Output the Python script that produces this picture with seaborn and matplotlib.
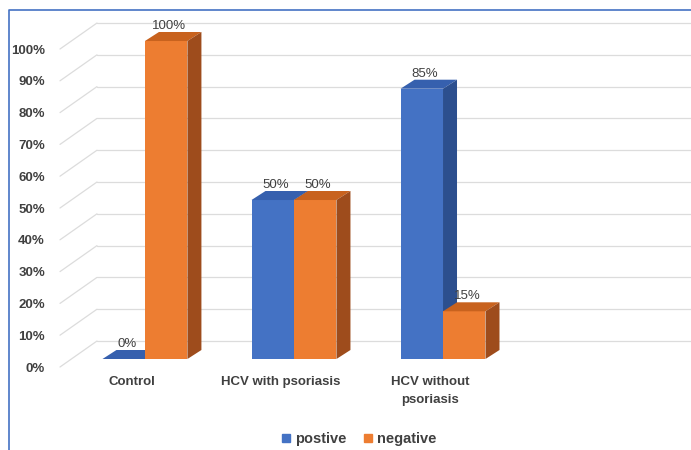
import matplotlib
matplotlib.use("Agg")
import matplotlib.pyplot as plt
import seaborn as sns
import pandas as pd
from matplotlib.patches import Polygon
from matplotlib.lines import Line2D
from matplotlib.transforms import blended_transform_factory, ScaledTranslation, IdentityTransform

# ---- data ----
categories = ["Control", "HCV with psoriasis", "HCV without\npsoriasis"]
series = ["postive", "negative"]
positive = [0, 50, 85]
negative = [100, 50, 15]
tick_values = [0, 10, 20, 30, 40, 50, 60, 70, 80, 90, 100]
tick_labels = [f"{v}%" for v in tick_values]

# ---- style ----
sns.set_theme(style="white")
plt.rcParams["font.family"] = ["Liberation Sans", "DejaVu Sans"]

front_colors = ["#4472C4", "#ED7D31"]
top_colors = ["#3660AE", "#C8621E"]
side_colors = ["#2C4F8E", "#9E4C1C"]
text_color = "#404040"
grid_color = "#dcdcdc"

df = pd.DataFrame({
    "group": categories * 2,
    "result": [series[0]] * len(categories) + [series[1]] * len(categories),
    "value": positive + negative,
})

DPI = 100
W, H = 691, 450
fig = plt.figure(figsize=(W / DPI, H / DPI), dpi=DPI)
ax = fig.add_axes([60 / W, 91 / H, 631 / W, 349 / H])

sns.barplot(data=df, x="group", y="value", hue="result", order=categories,
            hue_order=series, palette=front_colors, width=0.57, gap=0,
            saturation=1, legend=False, ax=ax, linewidth=0, errorbar=None)

ax.set_xlim(-0.570, 3.664)
ax.set_ylim(0, 109.75)
ax.axis("off")

ident = IdentityTransform()

# back wall gridlines and side wall diagonals
for v in tick_values:
    yf = ax.transData.transform((0, v))[1]
    ax.add_line(Line2D([97, W], [yf + 18, yf + 18], transform=ident,
                       color=grid_color, lw=0.9, zorder=0.5, clip_on=False))
    ax.add_line(Line2D([60, 97], [yf - 8, yf + 18], transform=ident,
                       color=grid_color, lw=0.9, zorder=0.5, clip_on=False))

# 3D depth faces
dx, dy = 14, 9
for k, container in enumerate(ax.containers):
    zo = 2 + k
    for bar, val in zip(container, [positive, negative][k]):
        bar.set_zorder(zo)
        bx, by, bw, bh = bar.get_x(), bar.get_y(), bar.get_width(), bar.get_height()
        x0, y0 = ax.transData.transform((bx, by))
        x1, y1 = ax.transData.transform((bx + bw, by + bh))
        top = Polygon([(x0, y1), (x1, y1), (x1 + dx, y1 + dy), (x0 + dx, y1 + dy)],
                      closed=True, transform=ident, facecolor=top_colors[k],
                      edgecolor="none", zorder=zo, clip_on=False)
        side = Polygon([(x1, y0), (x1 + dx, y0 + dy), (x1 + dx, y1 + dy), (x1, y1)],
                       closed=True, transform=ident, facecolor=side_colors[k],
                       edgecolor="none", zorder=zo, clip_on=False)
        ax.add_patch(top)
        ax.add_patch(side)
        ax.text((x0 + x1) / 2 + 3, y1 + 9, f"{val}%", transform=ident,
                ha="center", va="bottom", fontsize=9.5, color=text_color,
                zorder=10, clip_on=False)

# y tick labels
ytrans = blended_transform_factory(ax.transAxes, ax.transData) + \
    ScaledTranslation(0, -0.095, fig.dpi_scale_trans)
for v, lab in zip(tick_values, tick_labels):
    ax.text(-0.0238, v, lab, transform=ytrans, ha="right", va="center",
            fontsize=9.5, fontweight="bold", color=text_color, clip_on=False)

# category labels
xtrans = ax.transData + ScaledTranslation(-0.13, -0.17, fig.dpi_scale_trans)
for i, c in enumerate(categories):
    ax.text(i, 0, c, transform=xtrans, ha="center", va="top",
            multialignment="center", linespacing=1.7,
            fontsize=9.5, fontweight="bold", color=text_color, clip_on=False)

# legend
handles = [Line2D([], [], marker="s", linestyle="None", markersize=6,
                  markerfacecolor=c, markeredgecolor=c) for c in front_colors]
fig.legend(handles, series, loc="center", bbox_to_anchor=(0.517, 0.024),
           ncol=2, frameon=False, handletextpad=0.1, columnspacing=1.0,
           handlelength=1.0, prop={"size": 10.5, "weight": "bold"},
           labelcolor=text_color)

# blue frame (left and top)
fig.add_artist(Line2D([8.5 / W, 8.5 / W, 1], [0, 1 - 9.5 / H, 1 - 9.5 / H],
                      transform=fig.transFigure, color="#4472C4", lw=1.2))

fig.savefig("out.png", dpi=DPI)
